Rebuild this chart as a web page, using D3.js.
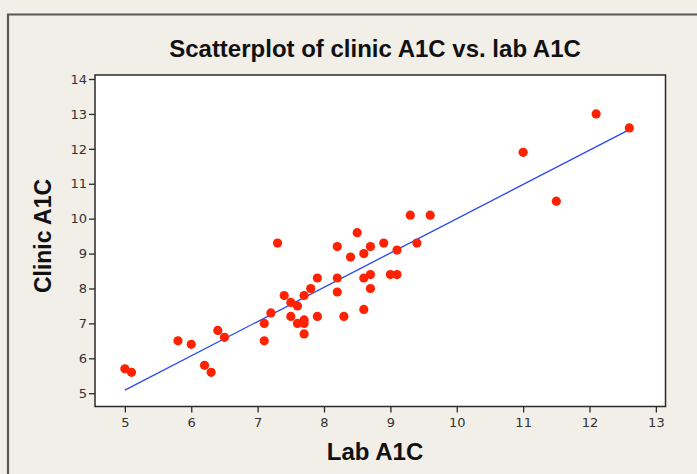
<!DOCTYPE html>
<html><head><meta charset="utf-8">
<script src="https://cdn.jsdelivr.net/npm/d3@7"></script>
<style>
html,body{margin:0;padding:0;background:#f2eee8;}
svg{display:block;}
</style></head>
<body>
<svg id="chart" width="697" height="474"></svg>
<script>
const labA1C = [5.0,5.1,5.8,6.0,6.2,6.3,6.4,6.5,7.1,7.1,7.2,7.3,7.4,7.5,7.5,7.6,7.6,7.7,7.7,7.7,7.7,7.8,7.9,7.9,8.2,8.2,8.2,8.3,8.4,8.5,8.6,8.6,8.6,8.7,8.7,8.7,8.9,9.0,9.1,9.1,9.3,9.4,9.6,11.0,11.5,12.1,12.6];
const clinicA1C = [5.7,5.6,6.5,6.4,5.8,5.6,6.8,6.6,7.0,6.5,7.3,9.3,7.8,7.6,7.2,7.5,7.0,7.8,7.1,7.0,6.7,8.0,8.3,7.2,9.2,8.3,7.9,7.2,8.9,9.6,9.0,8.3,7.4,9.2,8.4,8.0,9.3,8.4,9.1,8.4,10.1,9.3,10.1,11.9,10.5,13.0,12.6];
const fitX = [5.0, 12.6];
const fitY = [5.09, 12.55];
const xTicks = [5,6,7,8,9,10,11,12,13];
const yTicks = [5,6,7,8,9,10,11,12,13,14];

const svg = d3.select("#chart");
const W = 697, H = 474;
// outer frame
svg.append("rect").attr("x",0).attr("y",0).attr("width",W).attr("height",H).attr("fill","#f2eee8");
svg.append("path").attr("d",`M8,${H+5} V14.5 H${W+5}`).attr("fill","none").attr("stroke","#5a5856").attr("stroke-width",2.2);

const L = 95, R = 665.5, T = 75, B = 406.5;
const x = d3.scaleLinear().domain([4.55, 13.145]).range([L, R]);
const y = d3.scaleLinear().domain([4.62, 14.115]).range([B, T]);

svg.append("rect").attr("x",L).attr("y",T).attr("width",R-L).attr("height",B-T)
  .attr("fill","#ffffff").attr("stroke","#2a2a2a").attr("stroke-width",1.5);

const tickFont = "DejaVu Sans, Verdana, sans-serif";
const xAxis = svg.append("g").attr("transform",`translate(0,${B})`)
  .call(d3.axisBottom(x).tickValues(xTicks).tickSize(6).tickSizeOuter(0).tickPadding(5).tickFormat(d3.format("d")));
xAxis.select(".domain").remove();
xAxis.selectAll("line").attr("stroke","#2a2a2a").attr("stroke-width",1.3);
xAxis.selectAll("text").attr("font-family",tickFont).attr("font-size",13).attr("fill","#333");

const yAxis = svg.append("g").attr("transform",`translate(${L},0)`)
  .call(d3.axisLeft(y).tickValues(yTicks).tickSize(6).tickSizeOuter(0).tickPadding(2).tickFormat(d3.format("d")));
yAxis.select(".domain").remove();
yAxis.selectAll("line").attr("stroke","#2a2a2a").attr("stroke-width",1.3);
yAxis.selectAll("text").attr("font-family",tickFont).attr("font-size",13).attr("fill","#333");

// fit line
svg.append("line")
  .attr("x1",x(fitX[0])).attr("y1",y(fitY[0]))
  .attr("x2",x(fitX[1])).attr("y2",y(fitY[1]))
  .attr("stroke","#2747f5").attr("stroke-width",1.3);

// points
svg.append("g").selectAll("circle").data(labA1C.map((v,i)=>[v,clinicA1C[i]]))
  .join("circle")
  .attr("cx",d=>x(d[0])).attr("cy",d=>y(d[1])).attr("r",4.6)
  .attr("fill","#ff2200");

// title
svg.append("text").attr("x",375).attr("y",57).attr("text-anchor","middle")
  .attr("font-family","Liberation Sans, Arial, sans-serif").attr("font-weight","bold")
  .attr("font-size",24).attr("fill","#111").text("Scatterplot of clinic A1C vs. lab A1C");

svg.append("text").attr("x",375).attr("y",460).attr("text-anchor","middle")
  .attr("font-family","Liberation Sans, Arial, sans-serif").attr("font-weight","bold")
  .attr("font-size",24).attr("fill","#111").text("Lab A1C");

svg.append("text").attr("transform",`translate(51,236) rotate(-90)`).attr("text-anchor","middle")
  .attr("font-family","Liberation Sans, Arial, sans-serif").attr("font-weight","bold")
  .attr("font-size",23).attr("fill","#111").text("Clinic A1C");
</script>
</body></html>
